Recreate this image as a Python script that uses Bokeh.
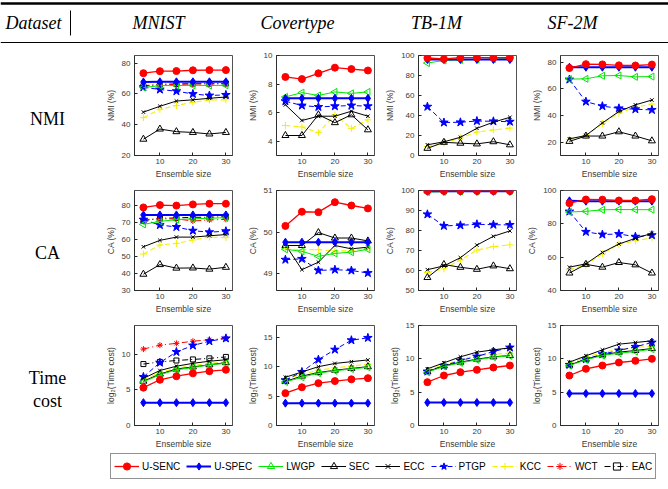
import math
from bokeh.plotting import figure
from bokeh.models import Range1d, ColumnDataSource, Legend, LegendItem, FixedTicker
from bokeh.layouts import column, row
from bokeh.embed import file_html
from bokeh.resources import INLINE
from bokeh.core.properties import value

# ---------------- data ----------------
sizes = [5, 10, 15, 20, 25, 30]
datasets = ["MNIST", "Covertype", "TB-1M", "SF-2M"]
methods = ["U-SENC", "U-SPEC", "LWGP", "SEC", "ECC", "PTGP", "KCC", "WCT", "EAC"]
row_names = ["NMI", "CA", "Time cost"]
y_labels = ["NMI (%)", "CA (%)", "log\u2082(Time cost)"]

nmi_mnist = {
    "U-SENC": [73.5, 74.8, 74.9, 75.4, 75.5, 75.5],
    "U-SPEC": [67.8, 67.9, 67.9, 67.9, 67.9, 67.9],
    "LWGP": [64.2, 65.4, 65.5, 65.6, 65.5, 65.6],
    "SEC": [30.6, 37.2, 35.5, 35.0, 34.0, 35.0],
    "ECC": [48.2, 52.0, 55.4, 56.2, 57.2, 58.0],
    "PTGP": [64.4, 62.9, 61.8, 60.0, 59.0, 59.4],
    "KCC": [44.6, 50.0, 52.5, 54.6, 56.1, 56.2],
    "WCT": [65.5, 66.0, 66.2, 66.5, 66.5, 66.6],
    "EAC": [65.0, 66.3, 66.5, 66.7, 66.7, 66.8],
}
nmi_cov = {
    "U-SENC": [8.5, 8.35, 8.75, 9.15, 9.05, 8.95],
    "U-SPEC": [7.0, 7.0, 7.0, 7.0, 7.0, 7.0],
    "LWGP": [7.1, 7.4, 7.2, 7.45, 7.35, 7.45],
    "SEC": [4.4, 4.4, 5.85, 5.3, 5.85, 4.8],
    "ECC": [6.55, 5.45, 5.75, 5.75, 6.1, 5.75],
    "PTGP": [6.8, 6.5, 6.4, 6.45, 6.5, 6.45],
    "KCC": [5.1, 5.0, 4.6, 5.85, 4.9, 5.5],
}
nmi_tb = {
    "U-SENC": [97.5, 96.5, 97.8, 97.8, 97.8, 97.9],
    "U-SPEC": [96.0, 96.0, 96.0, 96.0, 96.0, 96.0],
    "LWGP": [92.5, 95.0, 95.5, 96.0, 96.5, 97.0],
    "SEC": [7.2, 13.2, 12.3, 11.6, 13.8, 10.7],
    "ECC": [10.7, 13.7, 18.2, 27.2, 33.3, 38.2],
    "PTGP": [48.8, 33.0, 33.2, 34.5, 34.2, 33.8],
    "KCC": [9.0, 12.3, 17.6, 23.5, 25.6, 27.4],
}
nmi_sf = {
    "U-SENC": [75.6, 78.5, 78.3, 77.6, 77.5, 78.2],
    "U-SPEC": [76.2, 76.2, 76.2, 76.2, 76.2, 76.2],
    "LWGP": [67.3, 67.5, 69.8, 70.0, 69.0, 69.2],
    "SEC": [20.6, 24.6, 24.6, 27.8, 24.6, 21.0],
    "ECC": [22.5, 25.0, 34.4, 43.0, 48.0, 51.6],
    "PTGP": [67.0, 50.4, 47.0, 45.4, 44.7, 44.2],
    "KCC": [22.2, 24.6, 34.0, 41.8, 46.2, 48.6],
}
ca_mnist = {
    "U-SENC": [79.0, 80.4, 80.1, 80.8, 81.2, 81.2],
    "U-SPEC": [74.6, 74.6, 74.6, 74.6, 74.6, 74.6],
    "LWGP": [69.0, 70.8, 71.8, 72.3, 72.6, 73.0],
    "SEC": [39.6, 45.3, 43.2, 43.3, 42.6, 43.7],
    "ECC": [55.8, 59.6, 61.5, 61.5, 62.3, 63.0],
    "PTGP": [71.8, 68.6, 67.5, 65.3, 64.4, 65.0],
    "KCC": [51.5, 56.8, 57.8, 59.8, 61.5, 61.2],
    "WCT": [71.8, 72.2, 72.3, 71.0, 71.6, 72.0],
    "EAC": [71.2, 72.6, 72.8, 73.2, 73.2, 73.6],
}
ca_cov = {
    "U-SENC": [50.15, 50.49, 50.48, 50.72, 50.64, 50.57],
    "U-SPEC": [49.76, 49.76, 49.76, 49.76, 49.76, 49.76],
    "LWGP": [49.59, 49.54, 49.42, 49.49, 49.52, 49.59],
    "SEC": [49.68, 49.68, 49.99, 49.86, 49.86, 49.79],
    "ECC": [49.70, 49.10, 49.28, 49.68, 49.60, 49.64],
    "PTGP": [49.34, 49.36, 49.08, 49.10, 49.08, 49.02],
    "KCC": [49.60, 49.58, 49.58, 49.55, 49.55, 49.62],
}
ca_tb = {
    "U-SENC": [99.8, 99.8, 99.8, 99.8, 99.8, 99.8],
    "U-SPEC": [99.6, 99.6, 99.6, 99.6, 99.6, 99.6],
    "LWGP": [99.2, 99.4, 99.5, 99.5, 99.6, 99.6],
    "SEC": [56.5, 63.0, 61.6, 60.6, 62.3, 60.9],
    "ECC": [60.4, 62.3, 66.4, 72.7, 77.1, 79.8],
    "PTGP": [88.1, 82.3, 82.6, 83.1, 82.9, 82.8],
    "KCC": [59.0, 60.8, 65.3, 70.2, 71.9, 72.8],
}
ca_sf = {
    "U-SENC": [92.4, 94.6, 94.5, 94.0, 94.0, 94.8],
    "U-SPEC": [93.8, 93.6, 93.6, 93.6, 93.6, 93.6],
    "LWGP": [87.1, 87.5, 88.4, 88.6, 88.5, 88.5],
    "SEC": [50.5, 55.7, 54.0, 56.8, 55.4, 50.5],
    "ECC": [54.0, 56.0, 62.8, 67.9, 71.3, 74.3],
    "PTGP": [87.4, 75.2, 73.6, 73.9, 72.3, 73.2],
    "KCC": [52.5, 55.3, 62.0, 67.8, 69.8, 71.6],
}
time_mnist = {
    "U-SENC": [5.3, 6.4, 6.9, 7.3, 7.6, 7.8],
    "U-SPEC": [3.2, 3.2, 3.2, 3.2, 3.2, 3.2],
    "LWGP": [6.1, 7.1, 7.8, 8.1, 8.5, 8.7],
    "SEC": [6.2, 7.2, 7.9, 8.2, 8.5, 8.8],
    "ECC": [6.6, 7.7, 8.3, 8.7, 9.0, 9.2],
    "PTGP": [6.8, 8.8, 10.3, 11.2, 11.8, 12.2],
    "KCC": [6.4, 7.4, 8.0, 8.4, 8.7, 8.9],
    "WCT": [10.7, 11.25, 11.5, 11.8, 12.0, 12.2],
    "EAC": [8.6, 8.9, 9.1, 9.25, 9.4, 9.6],
}
time_cov = {
    "U-SENC": [5.5, 6.5, 7.2, 7.55, 7.85, 8.05],
    "U-SPEC": [3.8, 3.8, 3.8, 3.8, 3.8, 3.8],
    "LWGP": [7.4, 8.2, 8.9, 9.3, 9.6, 9.9],
    "SEC": [7.5, 8.4, 9.0, 9.4, 9.7, 10.0],
    "ECC": [8.2, 9.1, 10.0, 10.55, 10.85, 11.15],
    "PTGP": [7.7, 9.1, 11.2, 12.9, 14.5, 14.9],
    "KCC": [7.9, 8.7, 9.4, 9.8, 10.1, 10.4],
}
time_tb = {
    "U-SENC": [6.5, 7.5, 8.0, 8.35, 8.7, 9.0],
    "U-SPEC": [3.45, 3.45, 3.45, 3.45, 3.45, 3.45],
    "LWGP": [8.0, 8.85, 9.4, 9.85, 10.25, 10.45],
    "SEC": [8.1, 8.95, 9.5, 9.95, 10.3, 10.5],
    "ECC": [8.5, 9.4, 10.3, 11.0, 11.35, 11.65],
    "PTGP": [8.1, 8.95, 9.75, 10.35, 11.1, 11.7],
    "KCC": [8.3, 9.1, 9.85, 10.45, 10.7, 10.85],
}
time_sf = {
    "U-SENC": [7.5, 8.5, 9.0, 9.45, 9.7, 10.0],
    "U-SPEC": [4.8, 4.8, 4.8, 4.8, 4.8, 4.8],
    "LWGP": [9.0, 9.85, 10.5, 10.85, 11.1, 11.45],
    "SEC": [9.05, 9.95, 10.6, 11.0, 11.25, 11.55],
    "ECC": [9.5, 10.45, 11.35, 12.2, 12.45, 12.7],
    "PTGP": [9.1, 9.95, 10.7, 11.25, 11.8, 12.45],
    "KCC": [9.35, 10.25, 10.95, 11.45, 11.7, 11.9],
}

panels = [
    [nmi_mnist, nmi_cov, nmi_tb, nmi_sf],
    [ca_mnist, ca_cov, ca_tb, ca_sf],
    [time_mnist, time_cov, time_tb, time_sf],
]
y_ranges = [
    [(20, 85), (3, 10), (0, 100), (10, 85)],
    [(30, 89), (48.6, 51), (50, 100), (40, 100)],
    [(0, 14), (0, 17), (0, 15), (0, 15)],
]
y_ticks = [
    [[20, 40, 60, 80], [4, 6, 8, 10], [0, 20, 40, 60, 80, 100], [20, 40, 60, 80]],
    [[30, 40, 50, 60, 70, 80], [49, 50, 51], [50, 60, 70, 80, 90, 100], [40, 60, 80, 100]],
    [[0, 5, 10], [0, 5, 10, 15], [0, 5, 10, 15], [0, 5, 10, 15]],
]

# ---------------- styles ----------------
RED, BLUE, GREEN, BLACK, YELLOW = "#ff0000", "#0000ff", "#00e600", "#000000", "#f5f000"
STYLE = {
    "U-SENC": dict(color=RED, marker="circle", fill=RED, size=7, lw=1.3, dash="solid", angle=0),
    "U-SPEC": dict(color=BLUE, marker="diamond", fill=BLUE, size=8, lw=2.0, dash="solid", angle=0),
    "LWGP": dict(color=GREEN, marker="triangle", fill=None, size=7, lw=1.0, dash="solid", angle=math.pi / 2),
    "SEC": dict(color=BLACK, marker="triangle", fill=None, size=7, lw=1.0, dash="solid", angle=0),
    "ECC": dict(color=BLACK, marker="x", fill=None, size=5, lw=1.0, dash="solid", angle=0),
    "PTGP": dict(color=BLUE, marker="star", fill=BLUE, size=9, lw=1.0, dash="5 3", angle=0),
    "KCC": dict(color=YELLOW, marker="cross", fill=None, size=7, lw=1.1, dash="5 3", angle=0),
    "WCT": dict(color=RED, marker="asterisk", fill=None, size=6, lw=1.0, dash="6 3 1 3", angle=0),
    "EAC": dict(color=BLACK, marker="square", fill=None, size=5, lw=1.0, dash="6 3 1 3", angle=0),
}
draw_order = ["EAC", "WCT", "KCC", "PTGP", "ECC", "SEC", "LWGP", "U-SPEC", "U-SENC"]

AX = "#262626"
TICKC = "#3a3a3a"
SANS = "Liberation Sans"
SERIF = "Liberation Serif"

FIG_W, FIG_H = 142, 135
LBL_W = 92
HDR_H = 46
LEG_H = 38
PAGE_W = 668


def add_series(p, m, xs, ys):
    st = STYLE[m]
    src = ColumnDataSource(dict(x=xs, y=ys))
    r1 = p.line("x", "y", source=src, line_color=st["color"], line_width=st["lw"], line_dash=st["dash"])
    r2 = p.scatter("x", "y", source=src, marker=st["marker"], size=st["size"], angle=st["angle"],
                   line_color=st["color"], fill_color=st["fill"], line_width=1.0)
    return r1, r2


def make_panel(data, yr, ticks, ylabel):
    p = figure(width=FIG_W, height=FIG_H, x_range=Range1d(2.3, 32), y_range=Range1d(*yr),
               output_backend="svg", toolbar_location=None,
               min_border_left=42, min_border_right=2, min_border_top=9, min_border_bottom=25)
    p.grid.visible = False
    p.outline_line_color = AX
    p.outline_line_width = 0.8
    p.xaxis.ticker = FixedTicker(ticks=[10, 20, 30])
    p.yaxis.ticker = FixedTicker(ticks=ticks)
    for ax in (p.xaxis[0], p.yaxis[0]):
        ax.major_tick_in = 3
        ax.major_tick_out = 0
        ax.minor_tick_line_color = None
        ax.axis_line_color = AX
        ax.axis_line_width = 0.8
        ax.major_tick_line_color = AX
        ax.major_label_text_font = SANS
        ax.major_label_text_font_size = "8px"
        ax.major_label_text_color = TICKC
        ax.axis_label_text_font = SANS
        ax.axis_label_text_font_size = "8.5px"
        ax.axis_label_text_font_style = "normal"
        ax.axis_label_text_color = TICKC
    p.xaxis.axis_label = "Ensemble size"
    p.yaxis.axis_label = ylabel
    p.xaxis.major_label_standoff = 3
    p.xaxis.axis_label_standoff = 2
    p.yaxis.major_label_standoff = 4
    p.yaxis.axis_label_standoff = 3
    for m in draw_order:
        if m in data:
            add_series(p, m, sizes, data[m])
    return p


def blank(width, height, x0, x1, y_top, y_bottom):
    f = figure(width=width, height=height, x_range=Range1d(x0, x1), y_range=Range1d(y_bottom, y_top),
               output_backend="svg", toolbar_location=None, min_border=0,
               x_axis_location=None, y_axis_location=None)
    f.outline_line_color = None
    f.grid.visible = False
    return f


# ---------------- header ----------------
hdr = blank(PAGE_W, HDR_H, 0, PAGE_W, 0, HDR_H)
hdr.segment(x0=[0], y0=[3], x1=[PAGE_W], y1=[3], line_color="black", line_width=2.5)
hdr.segment(x0=[0], y0=[42], x1=[PAGE_W], y1=[42], line_color="black", line_width=1.2)
hdr.segment(x0=[70], y0=[10], x1=[70], y1=[35], line_color="black", line_width=1)
hdr.text(x=[5], y=[22], text=["Dataset"], text_font=value(SERIF), text_font_style="italic",
         text_font_size="18px", text_baseline="middle", text_align="left", text_color="black")
hdr.text(x=[158, 297, 436, 572], y=[22, 22, 22, 22], text=datasets, text_font=value(SERIF),
         text_font_style="italic", text_font_size="18px", text_baseline="middle",
         text_align="center", text_color="black")

# ---------------- row labels ----------------
mid_h = 3 * FIG_H
lab = blank(LBL_W, mid_h, 0, LBL_W, HDR_H, HDR_H + mid_h)
lab.text(x=[47, 47, 47, 47], y=[118, 252, 377, 400], text=["NMI", "CA", "Time", "cost"],
         text_font=value(SERIF), text_font_size="18px", text_baseline="middle",
         text_align="center", text_color="black")

# ---------------- grid ----------------
grid_rows = []
for i in range(3):
    figs = [make_panel(panels[i][j], y_ranges[i][j], y_ticks[i][j], y_labels[i]) for j in range(4)]
    grid_rows.append(row(*figs, spacing=0))
grid = column(*grid_rows, spacing=0)

# ---------------- legend ----------------
# legend strip: the MNIST time-cost series are attached here (they fall outside this strip's
# visible range, so only their legend samples show)
top = HDR_H + mid_h
leg = blank(PAGE_W, LEG_H, 0, PAGE_W, top, top + LEG_H)
items = []
for m in methods:
    r1, r2 = add_series(leg, m, sizes, time_mnist[m])
    items.append(LegendItem(label=m, renderers=[r1, r2]))
legend = Legend(items=items, orientation="horizontal", location=(110, 10),
                glyph_width=25, glyph_height=18, label_height=14, label_width=10,
                label_standoff=3, spacing=6, padding=3, margin=0,
                border_line_color="#262626", border_line_width=1,
                label_text_font=SANS, label_text_font_size="10px", label_text_color="black",
                background_fill_color="white", background_fill_alpha=1.0)
leg.add_layout(legend)

layout = column(hdr, row(lab, grid, spacing=0), leg, spacing=0)
open("out.html", "w").write(file_html(layout, INLINE))
